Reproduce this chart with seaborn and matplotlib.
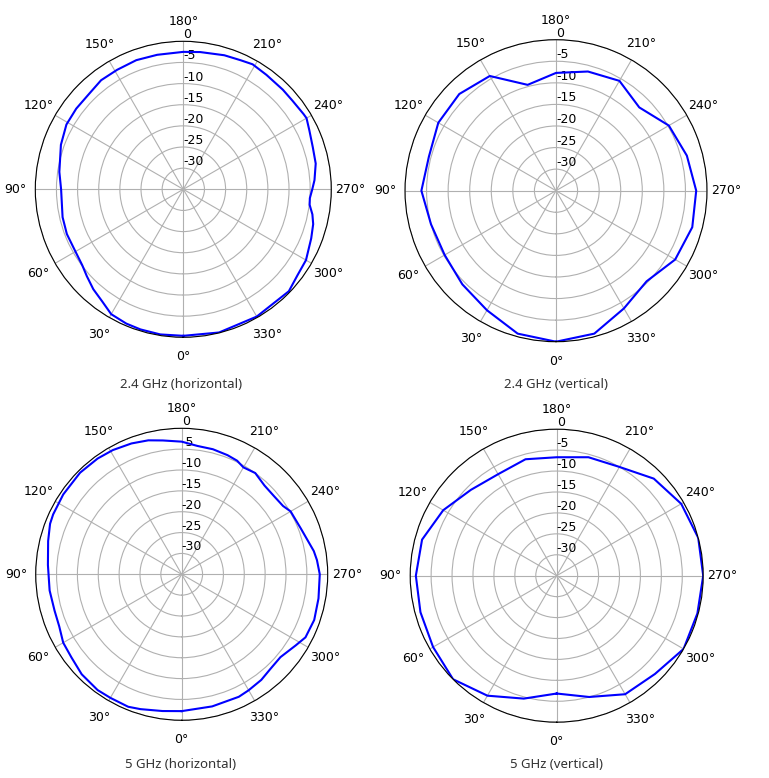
import numpy as np
import pandas as pd
import matplotlib
matplotlib.use("Agg")
import matplotlib.pyplot as plt
import seaborn as sns

# 2.4 GHz horizontal (angle in degrees, gain in dB)
h24_angle = [0, 9, 17, 23, 30, 36, 42, 48, 53, 62, 69, 77, 90, 98, 110, 119,
             127, 135, 143, 151, 160, 169, 180, 187, 197, 204, 209, 216, 225,
             231, 238, 240, 245, 252, 259, 266, 270, 274, 277, 281, 285, 291,
             300, 307, 314, 330, 346]
h24_gain = [-0.35, -0.25, -0.35, -0.5, -0.9, -2.3, -3.2, -4.3, -5.1, -5.6,
            -5.5, -5.7, -6.1, -5.4, -4.2, -3.4, -3.3, -3.3, -2.7, -2.7, -2.5,
            -2.6, -2.5, -2.3, -1.85, -1.6, -1.2, -1.55, -1.7, -1.75, -1.45,
            -1.35, -2.1, -2.8, -3.1, -3.9, -4.5, -5.0, -4.9, -3.9, -3.2, -2.6,
            -1.5, -1.2, -0.3, -0.25, -0.1]

# 2.4 GHz vertical, 15 degree steps
v24_angle = list(range(0, 360, 15))
v24_gain = [0.0, -0.7, -3.0, -4.3, -5.2, -5.0, -3.8, -4.5, -3.5, -3.3, -4.3,
            -9.6, -7.7, -6.4, -5.6, -7.7, -4.8, -3.6, -2.5, -2.3, -3.1, -5.3,
            -3.5, -0.7]

# 5 GHz horizontal
h5_angle = [0, 8, 17, 22, 30, 36, 45, 53, 60, 67, 74, 83, 94, 104, 111, 115,
            124, 135, 144, 151, 159, 166, 172, 180, 187, 194, 201, 206, 210,
            216, 223, 230, 236, 240, 249, 260, 264, 270, 280, 289, 297, 302,
            310, 317, 323, 330, 335, 347]
h5_gain = [-2.2, -1.9, -1.2, -0.75, -0.8, -0.7, -1.1, -1.9, -2.2, -3.1, -3.3,
           -3.1, -2.85, -2.0, -1.2, -1.0, -0.75, -0.55, -0.7, -0.95, -1.4,
           -1.9, -2.6, -3.2, -4.0, -4.1, -4.4, -4.7, -5.4, -5.0, -5.9, -6.0,
           -5.7, -4.85, -4.4, -2.85, -2.4, -1.9, -1.7, -1.4, -1.7, -2.8, -4.1,
           -3.9, -3.3, -2.9, -2.6, -2.5]

# 5 GHz vertical, 15 degree steps
v5_angle = list(range(0, 360, 15))
v5_gain = [-6.85, -4.6, -1.9, 0.0, -0.9, -1.3, -1.35, -1.7, -3.7, -6.0, -7.0,
           -6.2, -6.7, -5.7, -5.0, -2.2, -0.65, 0.0, 0.0, -0.2, 0.0, -1.8,
           -2.3, -5.0]

titles = ["2.4 GHz (horizontal)", "2.4 GHz (vertical)",
          "5 GHz (horizontal)", "5 GHz (vertical)"]
r_ticks = [0, -5, -10, -15, -20, -25, -30]
theta_ticks = list(range(0, 360, 30))

plt.rcParams["axes.unicode_minus"] = False

W, H = 769, 778
fig = plt.figure(figsize=(W / 100, H / 100), dpi=100)

# pixel boxes (left, top, size) of each polar panel
boxes = [(35.3, 41.3, 296), (405, 39.7, 302), (35.7, 428.3, 292), (410.2, 429.2, 293)]
caption_pos = [(181, 384), (556, 384), (181, 764), (556, 764)]
series = [(h24_angle, h24_gain), (v24_angle, v24_gain),
          (h5_angle, h5_gain), (v5_angle, v5_gain)]

for (left, top, size), (ang, gain), title, (cx, cy) in zip(boxes, series, titles, caption_pos):
    ax = fig.add_axes([left / W, (H - top - size) / H, size / W, size / H], projection="polar")
    df = pd.DataFrame({"theta": np.deg2rad(ang + [ang[0]]), "gain": gain + [gain[0]]})
    sns.lineplot(data=df, x="theta", y="gain", ax=ax, sort=False, estimator=None,
                 color="#0000ff", linewidth=1.5)
    ax.set_theta_zero_location("S")
    ax.set_theta_direction(-1)
    ax.set_thetagrids(theta_ticks)
    ax.set_ylim(-35, 0)
    ax.set_yticks(r_ticks)
    ax.set_yticklabels([str(t) for t in r_ticks])
    ax.set_rlabel_position(180)
    ax.set_xlabel("")
    ax.set_ylabel("")
    ax.tick_params(labelsize=9)
    fig.text(cx / W, 1 - cy / H, title, ha="center", va="center",
             fontsize=9.5, color="#333333", family="Noto Sans")

fig.savefig("out.png", dpi=100)
